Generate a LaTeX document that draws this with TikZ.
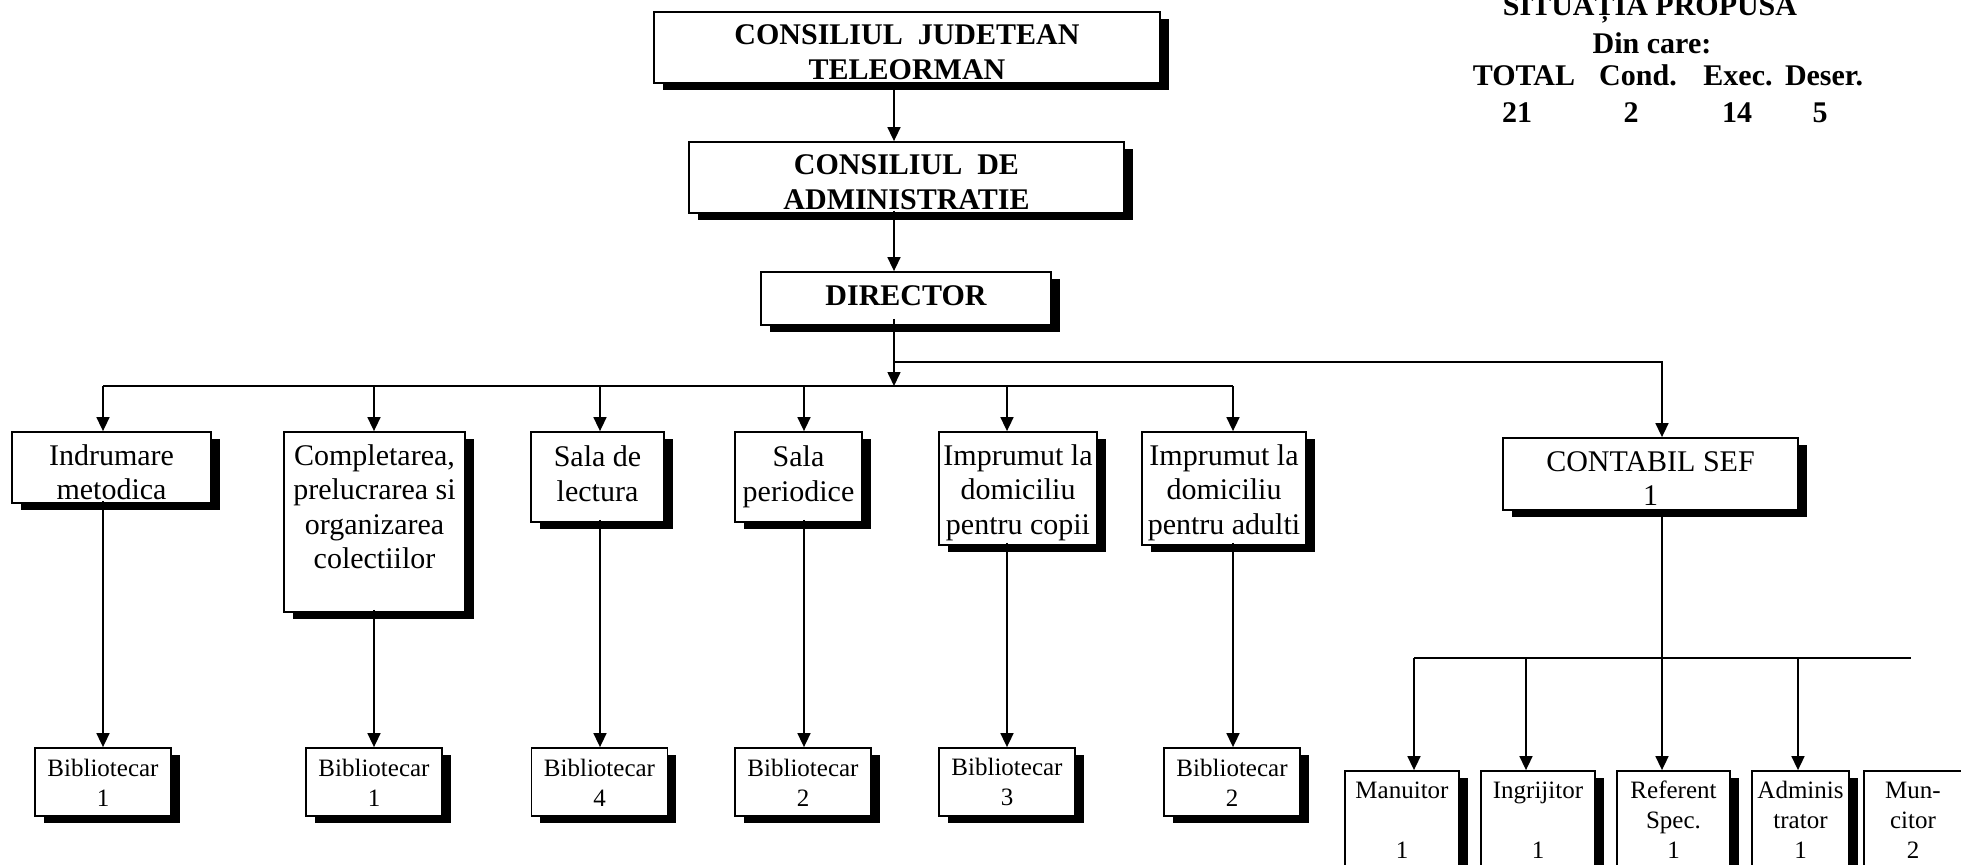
\documentclass[tikz,border=0pt]{standalone}
\usepackage{fontspec}
\setmainfont{Liberation Serif}
\usetikzlibrary{arrows.meta,shadows}
\newcommand\myup[1]{\rule{0pt}{#1}}
\newcommand\mydn[1]{\rule[-#1]{0pt}{#1}}
\begin{document}
\begin{tikzpicture}[x=0.5pt,y=-0.5pt,
 box/.style={draw, line width=0.9pt, fill=white, inner sep=0pt, align=center,
   drop shadow={shadow xshift=4.25pt, shadow yshift=-3.5pt, fill=black, opacity=1}},
 bigf/.style={font=\bfseries\fontsize{15pt}{17.5pt}\selectfont},
 regf/.style={font=\fontsize{15pt}{17.25pt}\selectfont},
 smallf/.style={font=\fontsize{12.5pt}{15pt}\selectfont},
 hdr/.style={font=\bfseries\fontsize{15pt}{17pt}\selectfont, anchor=base, inner sep=0pt},
 ln/.style={line width=0.8pt},
 arr/.style={ln, -{Triangle[length=7pt,width=6.5pt]}}]
\useasboundingbox (0,0) rectangle (1961,864);

% header
\node[hdr] (tit) at (1650,15) {SITUAȚIA PROPUSA};
\node[hdr] (din) at (1652,53) {Din care:};
\node[hdr] (hT) at (1524,85) {TOTAL};
\node[hdr] (hC) at (1638,85) {Cond.};
\node[hdr] (hE) at (1738,85) {Exec.};
\node[hdr] (hD) at (1824,85) {Deser.};
\node[hdr] (nT) at (1517,122) {21};
\node[hdr] (nC) at (1631,122) {2};
\node[hdr] (nE) at (1737,122) {14};
\node[hdr] (nD) at (1820,122) {5};

% top chain
\node[box,bigf,minimum width=253pt,minimum height=35.5pt] (cjt) at (907,47.5)
  {\myup{15pt}CONSILIUL\ \ JUDETEAN\\TELEORMAN};
\node[box,bigf,minimum width=217.5pt,minimum height=35.5pt] (cda) at (906.5,177.5)
  {\myup{15pt}CONSILIUL\ \ DE\\ADMINISTRATIE};
\node[box,bigf,minimum width=145pt,minimum height=26.5pt] (dir) at (906,298.5)
  {\rule[-5pt]{0pt}{16.5pt}DIRECTOR};

% departments
\node[box,regf,minimum width=99.5pt,minimum height=35.5pt] (ind) at (111.5,467.5)
  {\myup{15.25pt}Indrumare\\metodica};
\node[box,regf,minimum width=90.5pt,minimum height=90pt] (com) at (374.5,522)
  {\myup{10.5pt}Completarea,\\prelucrarea si\\organizarea\\colectiilor\mydn{15.75pt}};
\node[box,regf,minimum width=66.5pt,minimum height=45pt] (sl) at (597.5,477)
  {\myup{10.5pt}Sala de\\lectura\mydn{3.75pt}};
\node[box,regf,minimum width=63.5pt,minimum height=45pt] (sp) at (798.5,477)
  {\myup{10.5pt}Sala\\periodice\mydn{3.75pt}};
\node[box,regf,minimum width=79pt,minimum height=56.5pt] (ic) at (1018,488.5)
  {\myup{14.5pt}Imprumut la\\domiciliu\\pentru copii\mydn{3.5pt}};
\node[box,regf,minimum width=82pt,minimum height=56.5pt] (ia) at (1224,488.5)
  {\myup{14.5pt}Imprumut la\\domiciliu\\pentru adulti\mydn{3.5pt}};
\node[box,regf,minimum width=147.5pt,minimum height=36pt] (cont) at (1650.5,474)
  {\myup{14.25pt}CONTABIL SEF\\1};

% bibliotecari
\foreach \n/\x/\v in {b1/103/1,b2/374/1,b3/599.5/4,b4/803/2,b5/1007/3,b6/1232/2}{
  \node[box,smallf,minimum width=68pt,minimum height=34pt] (\n) at (\x,782)
    {\myup{9pt}Bibliotecar\\\v};
}

% contabil staff
\node[box,smallf,minimum width=57pt,minimum height=52.5pt] (man) at (1402,823.5)
  {\myup{8.5pt}Manuitor\\\mbox{}\\1\mydn{4pt}};
\node[box,smallf,minimum width=57pt,minimum height=52.5pt] (ing) at (1538,823.5)
  {\myup{8.5pt}Ingrijitor\\\mbox{}\\1\mydn{4pt}};
\node[box,smallf,minimum width=56.5pt,minimum height=52.5pt] (ref) at (1673.5,823.5)
  {\myup{8.5pt}Referent\\Spec.\\1\mydn{4pt}};
\node[box,smallf,minimum width=48.5pt,minimum height=52.5pt] (adm) at (1800.5,823.5)
  {\myup{8.5pt}Adminis\\trator\\1\mydn{4pt}};
\node[box,smallf,minimum width=49pt,minimum height=52.5pt] (mun) at (1913,823.5)
  {\myup{8.5pt}Mun-\\citor\\2\mydn{4pt}};

% spine coordinates
\coordinate (s) at (894,0);
\coordinate (hc) at (894,386);
\coordinate (br) at (894,362);
\coordinate (h1) at (103,386);
\coordinate (h2) at (374,386);
\coordinate (h3) at (600,386);
\coordinate (h4) at (804,386);
\coordinate (h5) at (1007,386);
\coordinate (h6) at (1233,386);
\coordinate (cx) at (1662,658);
\coordinate (k1) at (1414,658);
\coordinate (k2) at (1526,658);
\coordinate (k4) at (1798,658);
\coordinate (kend) at (1911,658);

% connectors top
\draw[arr] (cjt.south -| s) -- (cda.north -| s);
\draw[arr] ([yshift=1.5pt]cda.south -| s) -- (dir.north -| s);
\draw[arr] ([yshift=3.5pt]dir.south -| s) -- (hc);
\draw[arr] (br) -| (cont.north -| cx);
\draw[ln] (h1) -- (h6);
\foreach \h/\b/\c in {h1/ind/b1,h2/com/b2,h3/sl/b3,h4/sp/b4,h5/ic/b5,h6/ia/b6}{
  \draw[arr] (\h) -- (\h |- \b.north);
  \draw[arr] ([yshift=1.5pt]\h |- \b.south) -- (\h |- \c.north);
}

% contabil branch
\draw[ln] (cont.south -| cx) -- (cx);
\draw[ln] (k1) -- (kend);
\draw[arr] (k1) -- (k1 |- man.north);
\draw[arr] (k2) -- (k2 |- ing.north);
\draw[arr] (cx) -- (cx |- ref.north);
\draw[arr] (k4) -- (k4 |- adm.north);
\end{tikzpicture}
\end{document}
